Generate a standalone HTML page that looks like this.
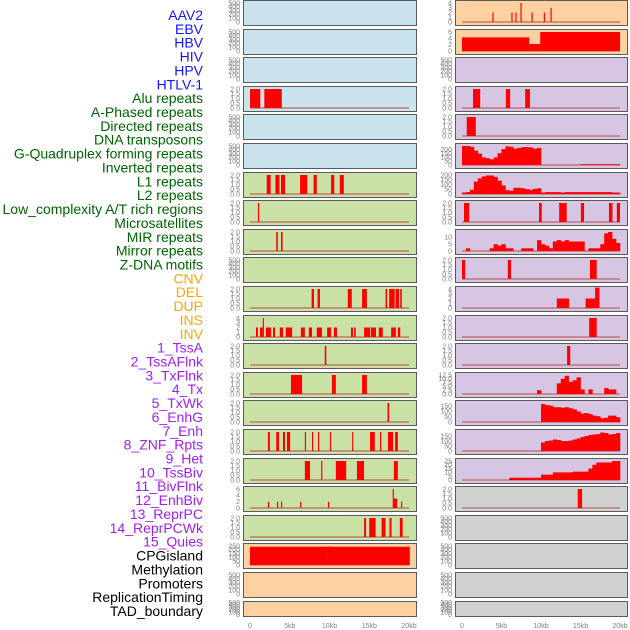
<!DOCTYPE html>
<html><head><meta charset="utf-8"><style>
html,body{margin:0;padding:0;background:#fff;width:630px;height:630px;overflow:hidden}
svg{display:block;font-family:"Liberation Sans",sans-serif}
</style></head><body>
<svg id="chart" width="630" height="630" viewBox="0 0 630 630" xmlns="http://www.w3.org/2000/svg"></svg>
<script>
const labels=["AAV2","EBV","HBV","HIV","HPV","HTLV-1","Alu repeats","A-Phased repeats","Directed repeats","DNA transposons","G-Quadruplex forming repeats","Inverted repeats","L1 repeats","L2 repeats","Low_complexity A/T rich regions","Microsatellites","MIR repeats","Mirror repeats","Z-DNA motifs","CNV","DEL","DUP","INS","INV","1_TssA","2_TssAFlnk","3_TxFlnk","4_Tx","5_TxWk","6_EnhG","7_Enh","8_ZNF_Rpts","9_Het","10_TssBiv","11_BivFlnk","12_EnhBiv","13_ReprPC","14_ReprPCWk","15_Quies","CPGisland","Methylation","Promoters","ReplicationTiming","TAD_boundary"];
const labelGroups=[6,13,5,15,5];
const groupColors=["#1414ff","#006400","#ffa500","#a020f0","#000000"];
const xTicks=[0,5,10,15,20];
const xTickLabels=["0","5kb","10kb","15kb","20kb"];
const T_E=[0,100,200,300,400,500];
const T_2=[0,0.5,1,1.5,2];
const T_4=[0,1,2,3,4];
const T_6=[0,2,4,6];
// left column panels: [yMax, ticks, bars [start,end,height]]
const leftMax=[500,500,500,2,500,500,2,2,2,500,2,4,2,2,2,2,2,6,2,250,500,500];
const leftTicks=[T_E,T_E,T_E,T_2,T_E,T_E,T_2,T_2,T_2,T_E,T_2,T_4,T_2,T_2,T_2,T_2,T_2,T_6,T_2,[0,50,100,150,200,250],T_E,T_E];
const leftBars=[[],[],[],
[[0,1.3,2],[1.8,4,2]],[],[],
[[2.1,2.6,2],[3.2,3.7,2],[3.9,4.4,2],[6.3,7.2,2],[8.0,8.4,2],[10.2,10.6,2],[11.3,11.8,2]],
[[1.0,1.15,2]],
[[3.3,3.5,2],[3.9,4.1,2]],
[],
[[7.75,8.05,2],[8.5,8.8,2],[12.3,12.8,2],[14.1,14.7,2],[17.05,17.25,2],[17.5,18.2,2],[18.3,18.75,2],[18.9,19.1,2]],
[[0.75,1.0,2],[1.25,1.6,2],[1.6,1.75,4],[2.0,2.65,2],[2.9,3.15,2],[3.75,4.15,2],[4.5,5.3,2],[6.4,6.9,2],[7.4,7.8,2],[8.4,9.05,2],[9.7,10.2,2],[10.55,10.95,2],[12.7,12.95,2],[13.1,13.3,2],[14.35,15.1,2],[15.2,15.85,2],[16.2,16.7,2],[17.75,18.35,2],[18.6,18.9,2]],
[[9.4,9.6,2]],
[[5.15,6.55,2],[10.3,10.8,2],[14.1,14.7,2]],
[[17.3,17.5,2]],
[[2.25,2.5,2],[3.3,3.65,2],[4.15,4.4,2],[4.65,5.05,2],[6.9,7.05,2],[7.8,7.95,2],[8.55,8.7,2],[10.05,10.2,2],[12.85,13.0,2],[15.1,15.7,2],[16.35,16.5,2],[17.35,18.0,2],[18.25,18.6,2]],
[[6.9,7.55,2],[8.95,9.1,2],[10.8,12.1,2],[13.45,14.35,2],[18.1,18.6,2]],
[[2.25,2.4,2],[3.4,3.55,2],[3.9,4.05,2],[6.3,6.45,2],[9.8,9.95,2],[17.95,18.1,6],[18.1,18.5,3],[19.0,19.15,2]],
[[14.35,14.6,2],[15.0,15.8,2],[16.55,17.05,2],[17.55,17.8,2],[18.85,19.2,2]],
[[0,9.8,240],[9.8,10.0,244],[10.0,20.1,240]],
[],[]];
const leftColors=["b","b","b","b","b","b","g","g","g","g","g","g","g","g","g","g","g","g","g","p","p","p"];
// right column
const rightMax=[4,6,500,2,2,250,200,2,14,2,4,2,2,12.5,180,190,25,2,500,500,500,500];
const rightTicks=[T_4,T_6,T_E,T_2,T_2,[0,50,100,150,200],[0,50,100,150,200],T_2,[0,5,10],T_2,T_4,T_2,T_2,[0,2.5,5,7.5,10,12.5],[0,50,100,150],[0,50,100,150],[0,5,10,15,20,25],T_2,T_E,T_E,T_E,T_E];
const rightBars=[
[[3.85,4.0,2],[6.25,6.4,2],[6.75,6.9,2],[7.4,7.55,4],[8.8,8.95,2],[10.35,10.5,2],[11.2,11.35,3]],
[[0,8.5,4.3],[8.5,9.9,2.2],[9.9,20,6]],
[],
[[1.4,2.3,2],[5.55,6.1,2],[8.0,8.6,2]],
[[0.6,1.75,2]],
[],[],
[[0.25,0.9,2],[9.75,10.1,2],[12.3,13.25,2],[15.05,15.45,2],[18.6,19.05,2],[19.6,20,2]],
[],
[[0,0.4,2],[5.8,6.2,2],[16.2,17.05,2]],
[[12.0,13.55,2],[15.65,16.85,2],[16.85,17.4,4.3]],
[[16.1,17.05,2]],
[[13.3,13.7,2]],
[],[],[],[],
[[14.65,15.2,2]],
[],[],[],[]];
// binned profiles (0.5kb bins from 0 to 20kb)
const profG4=[250,250,240,190,150,100,90,75,100,155,210,245,240,215,225,235,235,230,215,225,0,0,0,0,0,0,0,0,0,0,10,10,10,10,10,10,10,10,10,10];
const profInv=[15,20,45,130,165,185,195,195,180,140,90,40,35,65,65,60,50,45,55,60,15,20,20,20,20,15,20,20,20,20,20,20,20,20,20,20,20,20,15,15];
const profMIR=[0,2,0,0,0,0,0,2,5,4,5,2,2,0,0,2,2,2,0,8,5,4,2,7,8,7,8,7,7,7,7,0,2,2,2,5,13,14,9,6];
const profTx=[0,0,0,0,0,0,0,0,0,0,0,0,0,0,0,0,0,0,0,2.5,0,0,0,0,7,10,12,8,9,11,3,0,3,0,0,0,4,3,3,0];
const profTxWk=[0,0,0,0,0,0,0,0,0,0,0,0,0,0,0,0,0,0,0,0,170,160,155,140,140,135,140,130,120,100,80,85,75,60,55,35,40,60,60,45];
const profEnhG=[0,0,0,0,0,0,0,0,0,0,0,0,0,0,0,0,0,0,0,0,85,100,105,115,110,100,100,105,115,125,140,150,160,165,170,185,180,165,170,180];
const profEnh=[0,0,0,0,0,0,0,0,0,0,0,0,3,3,3,3,3,3,3,3,7,7,7,10,10,10,10,10,11,11,11,11,15,20,23,23,23,23,25,25];
const rightProfiles={5:profG4,6:profInv,8:profMIR,13:profTx,14:profTxWk,15:profEnhG,16:profEnh};
const rightColors=["p","p","u","u","u","u","u","u","u","u","u","u","u","u","u","u","u","k","k","k","k","k"];
const fills={b:"#c9e4ec",g:"#c9e1a5",p:"#ffd1a1",u:"#d6c6e3",k:"#d1d1d1"};

const svg=document.getElementById('chart');
const NS="http://www.w3.org/2000/svg";
function mk(tag,attrs,parent){const e=document.createElementNS(NS,tag);for(const k in attrs)e.setAttribute(k,attrs[k]);(parent||svg).appendChild(e);return e;}

// labels
let gi=0,gc=0;
labels.forEach((t,i)=>{
  const el=mk('text',{x:203,y:(20+i*13.86).toFixed(1),'text-anchor':'end','font-size':'14',fill:groupColors[gi]});
  el.textContent=t;
  
  
  gc++; if(gc>=labelGroups[gi]){gi++;gc=0;}
});

function rowTop(i){return Math.round(i*28.6);}
function rowH(i){return i===21?15:25;}

function drawPanel(col,i,x0,x1,zeroX,pxPerKb,yMax,ticks,bars,prof,color){
  const top=rowTop(i),h=rowH(i),bot=top+h;
  const g=mk('g',{});
  
  
  const r=mk('rect',{x:x0+0.5,y:top+0.5,width:x1-x0,height:h,fill:fills[color],stroke:'#5a5a5a','stroke-width':1},g);
  
  
  const pad=h>20?3:1.5;
  const yS=v=>bot-pad-v/yMax*(h-2*pad);
  const xS=kb=>zeroX+kb*pxPerKb;
  ticks.forEach(v=>{
    const t=mk('text',{x:x0-3,y:(yS(v)+2.3).toFixed(1),'text-anchor':'end','font-size':'7',fill:'#808080'},g);
    t.textContent=String(v).indexOf('.')<0&&ticks.some(q=>q%1!==0)?v.toFixed(1):(ticks===T_2?v.toFixed(1):String(v));
    
    
  });
  const hasData=bars.length>0||prof;
  if(hasData){
    const bl=mk('line',{x1:xS(0),x2:xS(20),y1:yS(0),y2:yS(0),stroke:'#c06060','stroke-width':1.5,opacity:0.8},g);
    
    
  }
  bars.forEach(b=>{
    const xa=xS(b[0]),xb=Math.max(xS(b[1]),xa+1.2);
    const br=mk('rect',{x:xa.toFixed(2),y:yS(b[2]).toFixed(2),width:(xb-xa).toFixed(2),height:(yS(0)-yS(b[2])).toFixed(2),fill:'#ff0000'},g);
    
    
  });
  if(prof){
    prof.forEach((v,k)=>{
      if(v<=0)return;
      const xa=xS(k*0.5),xb=xS(k*0.5+0.5);
      const br=mk('rect',{x:xa.toFixed(2),y:yS(v).toFixed(2),width:(xb-xa+0.3).toFixed(2),height:(yS(0)-yS(v)).toFixed(2),fill:'#ff0000'},g);
      
      
    });
  }
}
for(let i=0;i<22;i++){
  drawPanel('left',i,243,416,250,7.95,leftMax[i],leftTicks[i],leftBars[i],null,leftColors[i]);
  drawPanel('right',i,455,627,462,7.9,rightMax[i],rightTicks[i],rightBars[i],rightProfiles[i]||null,rightColors[i]);
}
// x axes
[[250,7.95,'left'],[462,7.9,'right']].forEach(a=>{
  xTicks.forEach((v,k)=>{
    const t=mk('text',{x:(a[0]+v*a[1]).toFixed(1),y:628,'text-anchor':'middle','font-size':'7',fill:'#808080'});
    t.textContent=xTickLabels[k];
    
    
  });
});
</script>
</body></html>
